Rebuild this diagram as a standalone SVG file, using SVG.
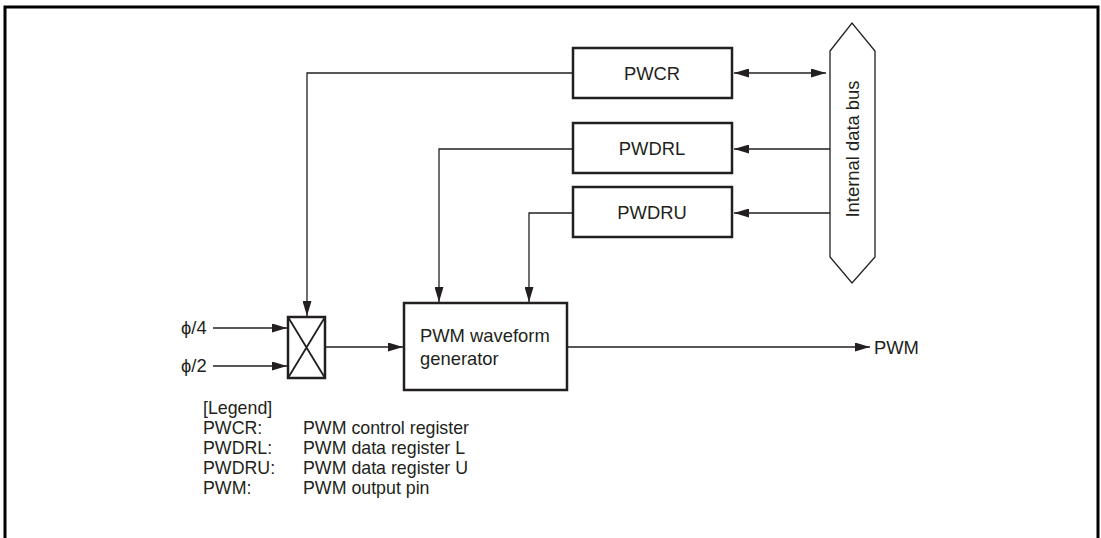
<svg xmlns="http://www.w3.org/2000/svg" width="1101" height="538" viewBox="0 0 1101 538">
<style>
.box{fill:#fff;stroke:#231f20;stroke-width:2.5}
.bus{fill:#fff;stroke:#231f20;stroke-width:1.3}
.ln{fill:none;stroke:#231f20;stroke-width:1.3}
.t{font-family:"Liberation Sans",Arial,sans-serif;font-size:18.4px;fill:#231f20}
.lg{font-size:17.8px}
.c{text-anchor:middle}
</style>
<defs>
<marker id="ah" markerUnits="userSpaceOnUse" markerWidth="15" markerHeight="9" viewBox="0 0 15 9" refX="15" refY="4.5" orient="auto-start-reverse">
<path d="M0,0 L15,4.5 L0,9 z" fill="#231f20"/>
</marker>
</defs>
<rect x="5" y="7" width="1093" height="540" fill="none" stroke="#000" stroke-width="3"/>
<g id="connectors">
<line class="ln" x1="734" y1="73" x2="826" y2="73" marker-start="url(#ah)" marker-end="url(#ah)"/>
<line class="ln" x1="830" y1="149" x2="734" y2="149" marker-end="url(#ah)"/>
<line class="ln" x1="830" y1="213" x2="734" y2="213" marker-end="url(#ah)"/>
<path class="ln" d="M573,73 H307 V316" marker-end="url(#ah)"/>
<path class="ln" d="M573,149 H439 V302" marker-end="url(#ah)"/>
<path class="ln" d="M573,213 H529 V302" marker-end="url(#ah)"/>
<path class="ln" d="M213,328 H287" marker-end="url(#ah)"/>
<path class="ln" d="M213,366 H287" marker-end="url(#ah)"/>
<path class="ln" d="M326,347 H403" marker-end="url(#ah)"/>
<path class="ln" d="M568,347 H870" marker-end="url(#ah)"/>
</g>
<g id="bus">
<polygon class="bus" points="830,51 852,23 875,51 875,257 852,283 830,257"/>
<text class="t c" transform="translate(859,149) rotate(-90)">Internal data bus</text>
</g>
<g id="pwcr">
<rect class="box" x="573" y="48" width="159" height="50"/>
<text class="t c" x="652" y="80">PWCR</text>
</g>
<g id="pwdrl">
<rect class="box" x="573" y="123" width="159" height="50"/>
<text class="t c" x="652" y="155">PWDRL</text>
</g>
<g id="pwdru">
<rect class="box" x="573" y="187" width="159" height="50"/>
<text class="t c" x="652" y="219">PWDRU</text>
</g>
<g id="mux">
<rect class="box" x="288" y="317" width="37" height="61"/>
<path class="ln" d="M288,317 L325,378 M325,317 L288,378" style="stroke-width:1.8"/>
</g>
<g id="generator">
<rect class="box" x="404" y="303" width="163" height="87"/>
<text class="t" x="420" y="342">PWM waveform<tspan x="420" y="365">generator</tspan></text>
</g>
<g id="inputs">
<text class="t" x="181" y="334">ϕ/4</text>
<text class="t" x="181" y="372">ϕ/2</text>
</g>
<g id="output">
<text class="t" x="874" y="354">PWM</text>
</g>
<g id="legend">
<text class="t lg" x="203" y="413.6">[Legend]</text>
<text class="t lg" x="203" y="433.6">PWCR:</text>
<text class="t lg" x="303" y="433.6">PWM control register</text>
<text class="t lg" x="203" y="453.6">PWDRL:</text>
<text class="t lg" x="303" y="453.6">PWM data register L</text>
<text class="t lg" x="203" y="473.6">PWDRU:</text>
<text class="t lg" x="303" y="473.6">PWM data register U</text>
<text class="t lg" x="203" y="493.6">PWM:</text>
<text class="t lg" x="303" y="493.6">PWM output pin</text>
</g>
</svg>
